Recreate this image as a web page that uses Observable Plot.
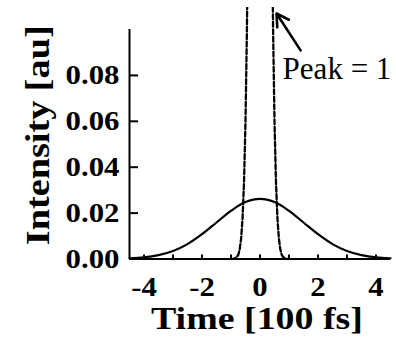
<!DOCTYPE html>
<html><head><meta charset="utf-8">
<script src="https://cdn.jsdelivr.net/npm/d3@7"></script>
<script src="https://cdn.jsdelivr.net/npm/@observablehq/plot@0.6"></script>
<style>body{margin:0;background:#fff}</style>
</head><body><div id="chart"></div>
<script>
// Broad pulse (solid)
const timeSolid = [-4.5,-4,-3.5,-3,-2.5,-2,-1.5,-1,-0.5,0,0.5,1,1.5,2,2.5,3,3.5,4,4.5];
const intensitySolid = [0.0003,0.0007,0.0017,0.0035,0.0065,0.0108,0.0159,0.0210,0.0248,0.0262,0.0248,0.0210,0.0159,0.0108,0.0065,0.0035,0.0017,0.0007,0.0003];
// Compressed pulse (dashed), peak = 1
const timeDashed = [-1.0,-0.9,-0.8,-0.75,-0.7,-0.65,-0.6,-0.55,-0.5,-0.45,-0.4,-0.3,-0.2,-0.1,0,0.1,0.2,0.3,0.4,0.45,0.5,0.55,0.6,0.65,0.7,0.75,0.8,0.9,1.0];
const intensityDashed = [0,0.0001,0.0008,0.0018,0.0042,0.0090,0.0180,0.0340,0.0600,0.1010,0.1630,0.3600,0.6350,0.8930,1,0.8930,0.6350,0.3600,0.1630,0.1010,0.0600,0.0340,0.0180,0.0090,0.0042,0.0018,0.0008,0.0001,0];
const xTicks = [-4,-3,-2,-1,0,1,2,3,4];
const xTickLabels = [-4,-2,0,2,4];
const yTicks = [0.02,0.04,0.06,0.08];
const yTickLabels = [0,0.02,0.04,0.06,0.08];
const xDomain = [-4.5,4.5];
const yDomain = [0,0.1096];
const yAxisTop = 0.1;
const xTitle = "Time [100 fs]";
const yTitle = "Intensity [au]";
const annotation = [{x:0.78, y:0.0826, text:"Peak = 1"}];
const arrow = [{x1:1.40, y1:0.0909, x2:0.57, y2:0.1070}];

const solid = timeSolid.map((t,i)=>({t, v:intensitySolid[i]}));
const dashed = timeDashed.map((t,i)=>({t, v:intensityDashed[i]}));
const font = "'Liberation Serif','Times New Roman',serif";

const chart = Plot.plot({
  width:396, height:345,
  marginLeft:129, marginRight:6, marginTop:7, marginBottom:86.5,
  x:{domain:xDomain},
  y:{domain:yDomain},
  style:{fontFamily:font, background:"#fff", color:"#000"},
  marks:[
    Plot.ruleX([xDomain[0]], {y1:0, y2:yAxisTop, strokeWidth:2}),
    Plot.ruleY([0], {strokeWidth:2}),
    Plot.axisX({ticks:xTicks, tickSize:-4, strokeWidth:2, fill:"none", label:null}),
    Plot.axisX({ticks:xTickLabels, tickSize:0, tickPadding:17, tickFormat:d=>String(d), fontSize:28, fontWeight:"bold", label:null}),
    Plot.axisY({ticks:yTicks, tickSize:-9, strokeWidth:2, fill:"none", label:null}),
    Plot.axisY({ticks:yTickLabels, tickSize:0, tickPadding:10, tickFormat:d=>d.toFixed(2), fontSize:28, fontWeight:"bold", label:null}),
    Plot.line(solid, {x:"t", y:"v", curve:"catmull-rom", strokeWidth:2.2}),
    Plot.line(dashed, {x:"t", y:"v", strokeWidth:2.3, strokeDasharray:"5,2.5", clip:true}),
    Plot.arrow(arrow, {x1:"x1", y1:"y1", x2:"x2", y2:"y2", strokeWidth:2.6, headLength:8}),
    Plot.text(annotation, {x:"x", y:"y", text:"text", textAnchor:"start", fontSize:31, fontWeight:"normal"}),
    Plot.text([yTitle], {text:d=>d, frameAnchor:"left", textAnchor:"middle", lineAnchor:"middle", rotate:-90, dx:-91, dy:2, fontSize:34, fontWeight:"bold"}),
    Plot.text([xTitle], {text:d=>d, frameAnchor:"bottom", textAnchor:"middle", lineAnchor:"middle", dx:-3, dy:60, fontSize:32, fontWeight:"bold"})
  ]
});
document.getElementById("chart").append(chart);

// Widen the heavy serif lettering as in the scanned figure
d3.select(chart).selectAll("text").each(function(){
  const t = this.textContent;
  const w = this.getComputedTextLength();
  let target = null;
  if (t === xTitle) target = 212;
  else if (t === yTitle) target = 220;
  else if (t === annotation[0].text) target = null;
  else target = w * 1.1;
  if (target) { this.setAttribute("textLength", target); this.setAttribute("lengthAdjust", "spacingAndGlyphs"); }
});
</script>
</body></html>
